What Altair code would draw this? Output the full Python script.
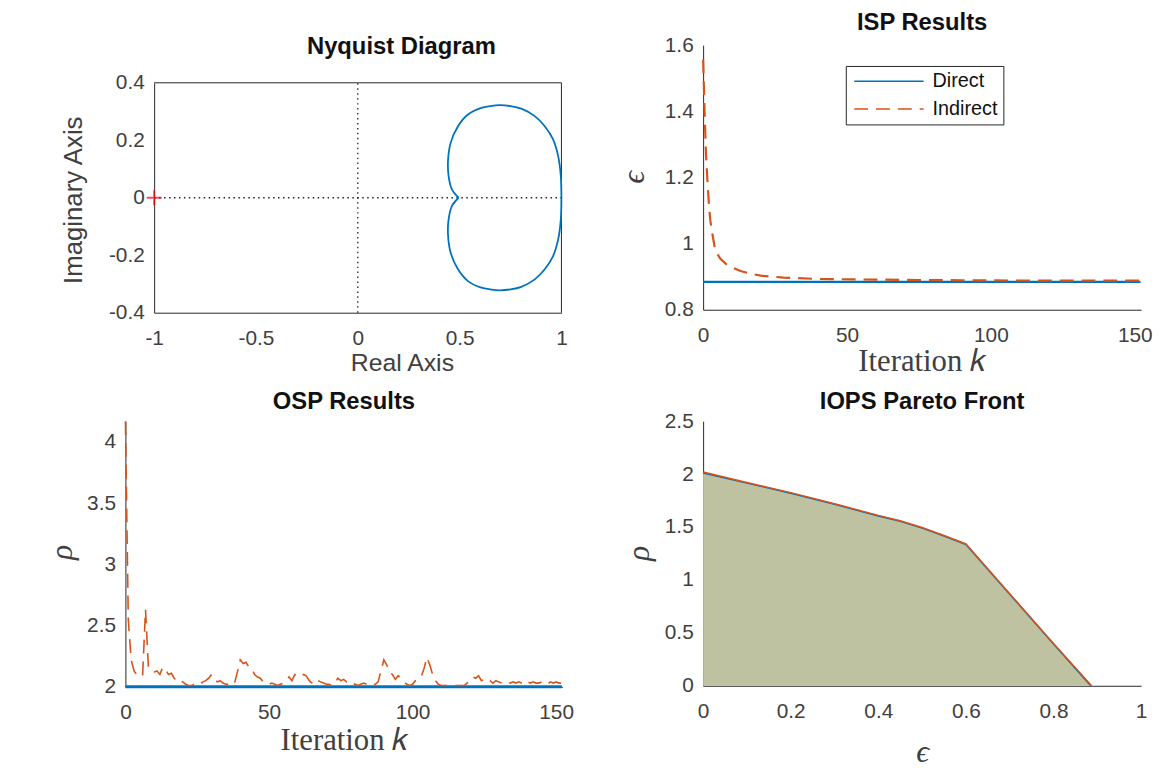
import altair as alt
import pandas as pd

# ---------------- data ----------------
# Nyquist curve: upper half (1,0) -> cusp, lower half cusp -> (1,0)
nyq_up_re = [1.000, 0.997, 0.984, 0.959, 0.918, 0.869, 0.803, 0.750, 0.697, 0.650, 0.607, 0.541, 0.492, 0.456, 0.443, 0.446, 0.462, 0.495]
nyq_up_im = [0.000, 0.075, 0.145, 0.203, 0.249, 0.284, 0.310, 0.319, 0.322, 0.319, 0.313, 0.290, 0.249, 0.191, 0.128, 0.075, 0.029, 0.000]
nyq_lo_re = [0.495, 0.462, 0.446, 0.443, 0.456, 0.492, 0.541, 0.607, 0.650, 0.697, 0.750, 0.803, 0.869, 0.918, 0.959, 0.984, 0.997, 1.000]
nyq_lo_im = [0.000, -0.029, -0.075, -0.128, -0.191, -0.249, -0.290, -0.313, -0.319, -0.322, -0.319, -0.310, -0.284, -0.249, -0.203, -0.145, -0.075, 0.000]
nyq_xticks = [-1, -0.5, 0, 0.5, 1]
nyq_yticks = [-0.4, -0.2, 0, 0.2, 0.4]

# ISP results
isp_k = [0, 0.5, 1, 1.5, 2, 2.5, 3, 4, 5, 6, 8, 10, 13, 17, 20, 28, 40, 60, 90, 120, 152]
isp_indirect = [1.557, 1.40, 1.27, 1.19, 1.12, 1.07, 1.04, 0.99, 0.968, 0.954, 0.938, 0.928, 0.917, 0.908, 0.903, 0.897, 0.893, 0.891, 0.889, 0.888, 0.888]
isp_direct_k = [0, 152]
isp_direct = [0.884, 0.884]
isp_yticks = [0.8, 1, 1.2, 1.4, 1.6]
iter_ticks = [0, 50, 100, 150]

# OSP results (k = 0 .. 152)
osp_indirect = [4.17, 2.55, 2.22, 2.13, 2.10, 2.08, 2.10, 2.63, 2.16, 2.14,
                2.12, 2.13, 2.10, 2.16, 2.14, 2.10, 2.11, 2.07, 2.04, 2.05,
                2.04, 2.02, 2.01, 2.01, 2.02, 2.01, 2.02, 2.04, 2.05, 2.07,
                2.10, 2.06, 2.04, 2.05, 2.03, 2.02, 2.02, 2.01, 2.03, 2.12,
                2.22, 2.19, 2.20, 2.16, 2.15, 2.10, 2.08, 2.07, 2.04, 2.03,
                2.02, 2.03, 2.02, 2.01, 2.02, 2.03, 2.06, 2.08, 2.05, 2.10,
                2.09, 2.08, 2.10, 2.09, 2.05, 2.03, 2.02, 2.05, 2.04, 2.03,
                2.02, 2.02, 2.01, 2.03, 2.07, 2.05, 2.06, 2.04, 2.05, 2.03,
                2.02, 2.01, 2.02, 2.03, 2.02, 2.01, 2.01, 2.02, 2.04, 2.13,
                2.22, 2.18, 2.12, 2.10, 2.06, 2.09, 2.07, 2.04, 2.02, 2.01,
                2.02, 2.05, 2.06, 2.08, 2.15, 2.24, 2.18, 2.10, 2.05, 2.02,
                2.01, 2.01, 2.01, 2.01, 2.01, 2.01, 2.01, 2.01, 2.01, 2.03,
                2.05, 2.08, 2.07, 2.09, 2.05, 2.06, 2.04, 2.05, 2.03, 2.05,
                2.04, 2.03, 2.04, 2.04, 2.03, 2.04, 2.03, 2.04, 2.03, 2.02,
                2.04, 2.03, 2.04, 2.03, 2.03, 2.04, 2.03, 2.02, 2.04, 2.03,
                2.04, 2.03, 2.03]
osp_direct_k = [0, 152]
osp_direct = [2.0, 2.0]
osp_yticks = [2, 2.5, 3, 3.5, 4]

# IOPS Pareto front
par_eps_direct = [0, 0.1, 0.2, 0.3, 0.4, 0.45, 0.5, 0.55, 0.6, 0.7, 0.8, 0.885]
par_rho_direct = [2.01, 1.915, 1.82, 1.715, 1.605, 1.555, 1.49, 1.415, 1.335, 0.865, 0.395, 0.0]
par_eps_indirect = [0, 0.1, 0.2, 0.3, 0.4, 0.45, 0.5, 0.55, 0.6, 0.7, 0.8, 0.887]
par_rho_indirect = [2.02, 1.92, 1.825, 1.72, 1.61, 1.56, 1.495, 1.42, 1.34, 0.87, 0.40, 0.0]
par_xticks = [0, 0.2, 0.4, 0.6, 0.8, 1]
par_yticks = [0, 0.5, 1, 1.5, 2, 2.5]

# ---------------- style ----------------
BLUE = "#0072BD"
ORANGE = "#D95319"
FILL = "#BEC2A0"
AXC = "#262626"
LABC = "#404040"
SANS = "Liberation Sans"
SERIF = "Liberation Serif"
DASH = [14, 8]
LBL = "'' + datum.value"
ITER = "Iteration 𝑘"


def xaxis(values, title, tx, ty, serif=False, size=25, italic=False):
    return alt.Axis(values=values, labelExpr=LBL, ticks=False, grid=False,
                    domainColor=AXC, domainWidth=1, labelFont=SANS, labelFontSize=21,
                    labelColor=LABC, labelPadding=15, labelFlush=False, title=title,
                    titleFont=SERIF if serif else SANS, titleFontSize=size,
                    titleFontWeight="normal", titleFontStyle="italic" if italic else "normal",
                    titleColor=LABC, titleX=tx, titleY=ty, titleBaseline="middle",
                    titleAlign="center", labelOverlap=False)


def yaxis(values, title, tx, ty, serif=False, size=26, italic=False, offset=0):
    return alt.Axis(values=values, labelExpr=LBL, ticks=False, grid=False,
                    domainColor=AXC, domainWidth=1, labelFont=SANS, labelFontSize=21,
                    labelColor=LABC, labelPadding=10, title=title, offset=offset,
                    titleFont=SERIF if serif else SANS, titleFontSize=size,
                    titleFontWeight="normal", titleFontStyle="italic" if italic else "normal",
                    titleColor=LABC, titleX=tx, titleY=ty, titleBaseline="middle",
                    titleAlign="center", titleAngle=270, labelOverlap=False)


def ptitle(text, dx=0, dy=0):
    return alt.TitleParams(text, font=SANS, fontSize=24, fontWeight="bold", color="#111111",
                           anchor="middle", frame="group", dx=dx, dy=dy, offset=4)


# ---------------- Nyquist ----------------
nyq_df = pd.DataFrame({
    "re": nyq_up_re + nyq_lo_re,
    "im": nyq_up_im + nyq_lo_im,
    "half": ["up"] * len(nyq_up_re) + ["lo"] * len(nyq_lo_re),
    "i": list(range(len(nyq_up_re))) + list(range(len(nyq_lo_re))),
})
NW, NH = 441, 270
nx = alt.Scale(domain=[-1, 1], range=[29, 440], nice=False, zero=False)
ny = alt.Scale(domain=[-0.4, 0.4], range=[270, 38], nice=False, zero=False)

nyq_curve = alt.Chart(nyq_df).mark_line(color=BLUE, strokeWidth=1.8, interpolate="catmull-rom").encode(
    x=alt.X("re:Q", scale=nx, axis=xaxis(nyq_xticks, "Real Axis", 279, 50)),
    y=alt.Y("im:Q", scale=ny, axis=yaxis(nyq_yticks, "Imaginary Axis", -81, 156, offset=-29)),
    detail="half:N", order="i:Q")

hline = alt.Chart(pd.DataFrame({"a": [nyq_xticks[0]], "b": [nyq_xticks[-1]], "c": [0]})).mark_rule(
    color="#222222", strokeDash=[1.5, 3.5], strokeWidth=1.3).encode(
    x=alt.X("a:Q", scale=nx), x2="b:Q", y=alt.Y("c:Q", scale=ny))
vline = alt.Chart(pd.DataFrame({"a": [nyq_yticks[0]], "b": [nyq_yticks[-1]], "c": [0]})).mark_rule(
    color="#222222", strokeDash=[1.5, 3.5], strokeWidth=1.3).encode(
    y=alt.Y("a:Q", scale=ny), y2="b:Q", x=alt.X("c:Q", scale=nx))
box_top = alt.Chart(pd.DataFrame({"a": [nyq_xticks[0]], "b": [nyq_xticks[-1]], "c": [nyq_yticks[-1]]})).mark_rule(
    color=AXC, strokeWidth=1).encode(x=alt.X("a:Q", scale=nx), x2="b:Q", y=alt.Y("c:Q", scale=ny))
box_right = alt.Chart(pd.DataFrame({"a": [nyq_yticks[0]], "b": [nyq_yticks[-1]], "c": [nyq_xticks[-1]]})).mark_rule(
    color=AXC, strokeWidth=1).encode(y=alt.Y("a:Q", scale=ny), y2="b:Q", x=alt.X("c:Q", scale=nx))
crit = alt.Chart(pd.DataFrame({"re": [-1], "im": [0]})).mark_point(
    shape="M-1,0H1M0,-1V1", size=225, color="#FF0000", filled=False, strokeWidth=2).encode(
    x=alt.X("re:Q", scale=nx), y=alt.Y("im:Q", scale=ny))

nyq = alt.layer(hline, vline, box_top, box_right, nyq_curve, crit).properties(
    width=NW, height=NH, title=ptitle("Nyquist Diagram", dx=58, dy=17.5))

# ---------------- ISP ----------------
isp_df = pd.concat([
    pd.DataFrame({"k": isp_direct_k, "v": isp_direct, "series": "Direct"}),
    pd.DataFrame({"k": isp_k, "v": isp_indirect, "series": "Indirect"}),
])
leg = alt.Legend(orient="none", legendX=727, legendY=21, title=None, symbolType="M-1,0H9",
                 symbolSize=196, symbolStrokeWidth=1.5, symbolFillColor="transparent",
                 labelFont=SANS, labelFontSize=20,
                 labelColor="#111111", fillColor="white", strokeColor=AXC, padding=5.5,
                 rowPadding=8, labelOffset=62)
isp = alt.Chart(isp_df).mark_line(strokeWidth=2.2).encode(
    x=alt.X("k:Q", scale=alt.Scale(domain=[0, 152.2], nice=False),
            axis=xaxis(iter_ticks, ITER, 221, 52, serif=True, size=31)),
    y=alt.Y("v:Q", scale=alt.Scale(domain=[0.8, 1.6], nice=False, zero=False),
            axis=yaxis(isp_yticks, "ϵ", -70, 133, serif=True, size=32, italic=True)),
    color=alt.Color("series:N", scale=alt.Scale(domain=["Direct", "Indirect"], range=[BLUE, ORANGE]), legend=leg),
    strokeDash=alt.StrokeDash("series:N", scale=alt.Scale(domain=["Direct", "Indirect"], range=[[1, 0], DASH]), legend=leg),
    order=alt.Order("series:N", sort="ascending"),
).properties(width=442, height=267, title=ptitle("ISP Results", dy=5))

# ---------------- OSP ----------------
osp_df = pd.DataFrame({"k": list(range(len(osp_indirect))), "v": osp_indirect})
osp_dir_df = pd.DataFrame({"k": osp_direct_k, "v": osp_direct})
ox = alt.Scale(domain=[0, 152.2], nice=False)
oy = alt.Scale(domain=[2, 4.17], nice=False, zero=False)
osp_dir = alt.Chart(osp_dir_df).mark_line(color=BLUE, strokeWidth=3).encode(
    x=alt.X("k:Q", scale=ox, axis=xaxis(iter_ticks, ITER, 221, 54, serif=True, size=31)),
    y=alt.Y("v:Q", scale=oy, axis=yaxis(osp_yticks, "ρ", -64, 132, serif=True, size=32, italic=True)))
osp_ind = alt.Chart(osp_df).mark_line(color=ORANGE, strokeWidth=1.6, strokeDash=DASH).encode(
    x=alt.X("k:Q", scale=ox), y=alt.Y("v:Q", scale=oy))
osp = alt.layer(osp_dir, osp_ind).properties(width=441, height=268, title=ptitle("OSP Results", dy=0))

# ---------------- Pareto ----------------
par_d = pd.DataFrame({"e": par_eps_direct, "r": par_rho_direct})
par_i = pd.DataFrame({"e": par_eps_indirect, "r": par_rho_indirect})
px = alt.Scale(domain=[0, 1], nice=False)
py = alt.Scale(domain=[0, 2.5], nice=False)
par_area = alt.Chart(par_d).mark_area(color=FILL, opacity=1).encode(
    x=alt.X("e:Q", scale=px, axis=xaxis(par_xticks, "ϵ", 221, 66, serif=True, size=32, italic=True)),
    y=alt.Y("r:Q", scale=py, axis=yaxis(par_yticks, "ρ", -65, 133, serif=True, size=32, italic=True)))
par_l1 = alt.Chart(par_d).mark_line(color=BLUE, strokeWidth=1.5).encode(
    x=alt.X("e:Q", scale=px), y=alt.Y("r:Q", scale=py))
par_l2 = alt.Chart(par_i).mark_line(color=ORANGE, strokeWidth=1.5).encode(
    x=alt.X("e:Q", scale=px), y=alt.Y("r:Q", scale=py))
par = alt.layer(par_area, par_l1, par_l2).properties(width=442, height=267, title=ptitle("IOPS Pareto Front", dy=8))

chart = alt.concat(nyq, isp, osp, par, columns=2, spacing={"row": 109.5, "column": 142}, bounds="flush").properties(
    padding={"left": 38.5, "top": 0, "right": 0, "bottom": 0},
    background="white",
).configure_view(stroke=None)

chart.save("out.html", embed_options={"renderer": "svg", "actions": False})
